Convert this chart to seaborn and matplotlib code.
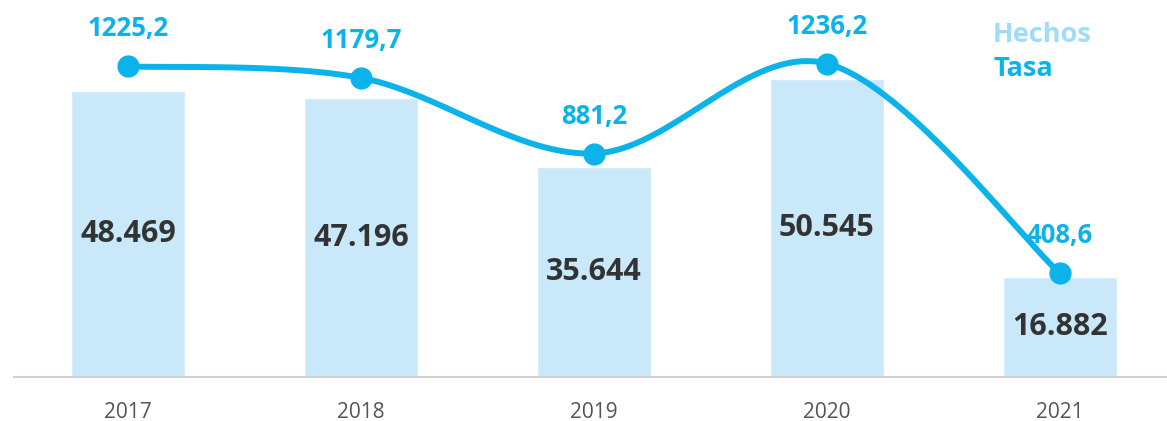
import numpy as np
import pandas as pd
import matplotlib
matplotlib.use("Agg")
import matplotlib.pyplot as plt
import seaborn as sns


# ======================================================
# DATA
# ======================================================
years = ["2017", "2018", "2019", "2020", "2021"]
hechos = [48469, 47196, 35644, 50545, 16882]
tasa = [1225.2, 1179.7, 881.2, 1236.2, 408.6]
hechos_labels = ["48.469", "47.196", "35.644", "50.545", "16.882"]
tasa_labels = ["1225,2", "1179,7", "881,2", "1236,2", "408,6"]

BAR_COLOR = "#C9E9FB"
LINE_COLOR = "#0CB3EA"
LEGEND_LIGHT = "#9FDCF7"
TEXT_DARK = "#333333"


# ======================================================
# SMOOTH LINE (uniform Catmull-Rom, like a spreadsheet "smoothed line")
# ======================================================
def smooth(xs, ys, n=40):
    pts = np.column_stack([xs, ys]).astype(float)
    pts = np.vstack([pts[0], pts, pts[-1]])
    out = []
    for i in range(1, len(pts) - 2):
        p0, p1, p2, p3 = pts[i - 1], pts[i], pts[i + 1], pts[i + 2]
        t = np.linspace(0, 1, n)[:, None]
        seg = 0.5 * ((2 * p1) + (-p0 + p2) * t
                     + (2 * p0 - 5 * p1 + 4 * p2 - p3) * t ** 2
                     + (-p0 + 3 * p1 - 3 * p2 + p3) * t ** 3)
        out.append(seg)
    out = np.vstack(out)
    return out[:, 0], out[:, 1]


# ======================================================
# PLOT
# ======================================================
sns.set_theme(style="white")
plt.rcParams["font.family"] = ["Open Sans", "DejaVu Sans"]

fig = plt.figure(figsize=(11.67, 4.21), dpi=100)
ax = fig.add_axes([0, 0.105, 1, 0.895])

df = pd.DataFrame({"year": years, "hechos": hechos, "tasa": tasa})
sns.barplot(data=df, x="year", y="hechos", color=BAR_COLOR, width=0.49,
            saturation=1, ax=ax)
ax.bar_label(ax.containers[0], labels=hechos_labels, label_type="center",
             fontsize=22, fontweight="bold", color=TEXT_DARK)

ax.set_xlim(-0.549, 4.46)
ax.set_ylim(0, 63900)
ax.set_xlabel("")
ax.set_ylabel("")
ax.set_yticks([])
for s in ["top", "left", "right"]:
    ax.spines[s].set_visible(False)
ax.spines["bottom"].set_color("#d0d0d0")
ax.spines["bottom"].set_linewidth(1.5)
ax.spines["bottom"].set_bounds(-0.49, 4.46)
ax.tick_params(axis="x", length=0, pad=18, labelsize=15, labelcolor="#555555")

# ---- rate line on twin axis
ax2 = ax.twinx()
ax2.set_ylim(0, 1487)
ax2.axis("off")
xpos = np.arange(len(years))
sx, sy = smooth(xpos, tasa)
ax2.plot(sx, sy, color=LINE_COLOR, lw=4.3, solid_capstyle="round", clip_on=False)
ax2.plot(xpos, tasa, "o", color=LINE_COLOR, ms=15, clip_on=False)
for x, v, lab in zip(xpos, tasa, tasa_labels):
    ax2.annotate(lab, (x, v), xytext=(0, 27), textcoords="offset points",
                 ha="center", va="center", fontsize=18.5, fontweight="bold",
                 color=LINE_COLOR, zorder=1)

# ---- legend as text
fig.text(0.851, 0.918, "Hechos", fontsize=19.5, fontweight="bold",
         color=LEGEND_LIGHT, va="center", ha="left")
fig.text(0.851, 0.835, "Tasa", fontsize=19.5, fontweight="bold",
         color=LINE_COLOR, va="center", ha="left")

fig.savefig("out.png", dpi=100)
